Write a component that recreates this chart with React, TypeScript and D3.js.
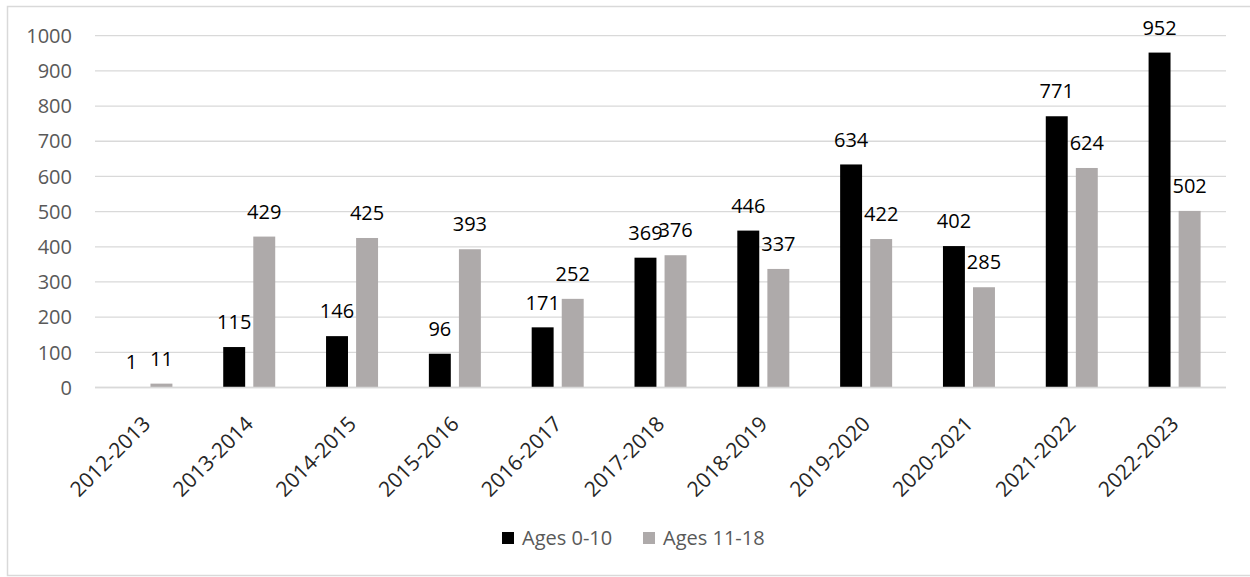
import React, { useEffect, useRef } from 'react';
import * as d3 from 'd3';

const years = [
  '2012-2013', '2013-2014', '2014-2015', '2015-2016', '2016-2017', '2017-2018',
  '2018-2019', '2019-2020', '2020-2021', '2021-2022', '2022-2023',
];
const ages0to10 = [1, 115, 146, 96, 171, 369, 446, 634, 402, 771, 952];
const ages11to18 = [11, 429, 425, 393, 252, 376, 337, 422, 285, 624, 502];
const seriesNames = ['Ages 0-10', 'Ages 11-18'];
const seriesColors = ['#000000', '#aeaaaa'];
const yTicks = [0, 100, 200, 300, 400, 500, 600, 700, 800, 900, 1000];

const FONT = '"Open Sans", sans-serif';

const App = () => {
  const svgRef = useRef<SVGSVGElement | null>(null);

  useEffect(() => {
    const width = 1250;
    const height = 577;
    const svg = d3.select(svgRef.current);
    svg.selectAll('*').remove();

    // chart frame
    svg.append('rect')
      .attr('x', 7.5).attr('y', 6.5)
      .attr('width', 1250).attr('height', 569)
      .attr('fill', 'white')
      .attr('stroke', '#d9d9d9')
      .attr('stroke-width', 1.5);

    const left = 95;
    const right = 1226;
    const x0 = d3.scaleBand<string>().domain(years).range([left, right]).padding(0);
    const x1 = d3.scaleBand<string>().domain(seriesNames).range([-26, 26]).paddingInner(0.27);
    const y = d3.scaleLinear().domain([0, 1000]).range([387.5, 35.7]);

    // grid + y labels
    const grid = svg.append('g');
    grid.selectAll('line')
      .data(yTicks)
      .enter()
      .append('line')
      .attr('x1', left).attr('x2', right)
      .attr('y1', d => y(d)).attr('y2', d => y(d))
      .attr('stroke', '#d9d9d9')
      .attr('stroke-width', 1.3);

    grid.selectAll('text')
      .data(yTicks)
      .enter()
      .append('text')
      .attr('x', 72)
      .attr('y', d => y(d))
      .attr('dy', '0.36em')
      .attr('text-anchor', 'end')
      .attr('font-family', FONT)
      .attr('font-size', 20)
      .attr('fill', '#595959')
      .text(d => d);

    const rows = years.map((yr, i) => ({
      year: yr,
      values: [ages0to10[i], ages11to18[i]],
    }));

    const groups = svg.append('g')
      .selectAll('g')
      .data(rows)
      .enter()
      .append('g')
      .attr('transform', d => `translate(${x0(d.year)! + x0.bandwidth() / 2},0)`);

    groups.selectAll('rect')
      .data(d => d.values.map((v, k) => ({ key: seriesNames[k], v, k })))
      .enter()
      .append('rect')
      .attr('x', d => x1(d.key)!)
      .attr('y', d => y(d.v))
      .attr('width', x1.bandwidth())
      .attr('height', d => y(0) - y(d.v))
      .attr('fill', d => seriesColors[d.k]);

    // value labels (the 369 / 376 pair overlaps in the original too)
    groups.selectAll('text')
      .data(d => d.values.map((v, k) => ({ key: seriesNames[k], v, k })))
      .enter()
      .append('text')
      .attr('x', d => x1(d.key)! + x1.bandwidth() / 2)
      .attr('y', d => y(d.v) - 25)
      .attr('dy', '0.36em')
      .attr('text-anchor', 'middle')
      .attr('font-family', FONT)
      .attr('font-size', 20)
      .attr('fill', '#000')
      .text(d => d.v);

    // x axis line
    svg.append('line')
      .attr('x1', left).attr('x2', right)
      .attr('y1', y(0)).attr('y2', y(0))
      .attr('stroke', '#d9d9d9')
      .attr('stroke-width', 1.3);

    // x labels
    svg.append('g')
      .selectAll('text')
      .data(years)
      .enter()
      .append('text')
      .attr('transform', d => `translate(${x0(d)! + x0.bandwidth() / 2},420) rotate(-45)`)
      .attr('dy', '0.36em')
      .attr('text-anchor', 'end')
      .attr('font-family', FONT)
      .attr('font-size', 21)
      .attr('fill', '#262626')
      .text(d => d);

    // legend
    const legendX = [502, 643];
    const legend = svg.append('g');
    seriesNames.forEach((name, k) => {
      legend.append('rect')
        .attr('x', legendX[k]).attr('y', 532)
        .attr('width', 12).attr('height', 12)
        .attr('fill', seriesColors[k]);
      legend.append('text')
        .attr('x', legendX[k] + 20)
        .attr('y', 538)
        .attr('dy', '0.36em')
        .attr('font-family', FONT)
        .attr('font-size', 20)
        .attr('fill', '#595959')
        .text(name);
    });

    svg.attr('width', width).attr('height', height);
  }, []);

  return (
    <div style={{ position: 'absolute', left: 0, top: 0, width: 1250, height: 577, overflow: 'hidden', background: 'white' }}>
      <svg ref={svgRef} width={1250} height={577} style={{ display: 'block' }}></svg>
    </div>
  );
};

export default App;
